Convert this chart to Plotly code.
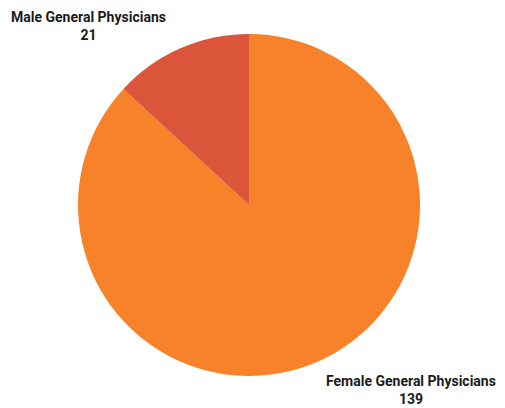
import plotly.graph_objects as go

# data (clockwise from 12 o'clock)
labels = ["Female General Physicians", "Male General Physicians"]
values = [139, 21]
colors = ["#F7822A", "#DA553A"]

fig = go.Figure()

# page body adds ~8px offset, so shift domain up/left by 8px
fig.add_trace(go.Pie(
    labels=labels,
    values=values,
    marker=dict(colors=colors, line=dict(width=0)),
    sort=False,
    direction="clockwise",
    rotation=0,
    textinfo="none",
    hoverinfo="label+value",
    domain=dict(x=[70 / 505, 412 / 505], y=[40 / 408, 382 / 408]),
))

# outside labels (x center, y top in px)
label_pos = [(403, 364), (80, 0)]
for (lx, ly), lab, val in zip(label_pos, labels, values):
    fig.add_annotation(
        x=lx / 505, y=1 - ly / 408, xref="paper", yref="paper",
        xanchor="center", yanchor="top", borderpad=0,
        text=f"<b>{lab}</b><br><b>{val}</b>",
        showarrow=False, align="center",
        font=dict(family="Roboto", size=14, color="#1a1a1a"),
    )

fig.update_layout(
    width=505, height=408,
    margin=dict(l=0, r=0, t=0, b=0),
    showlegend=False,
    paper_bgcolor="white",
    plot_bgcolor="white",
)

fig.write_html("out.html")
